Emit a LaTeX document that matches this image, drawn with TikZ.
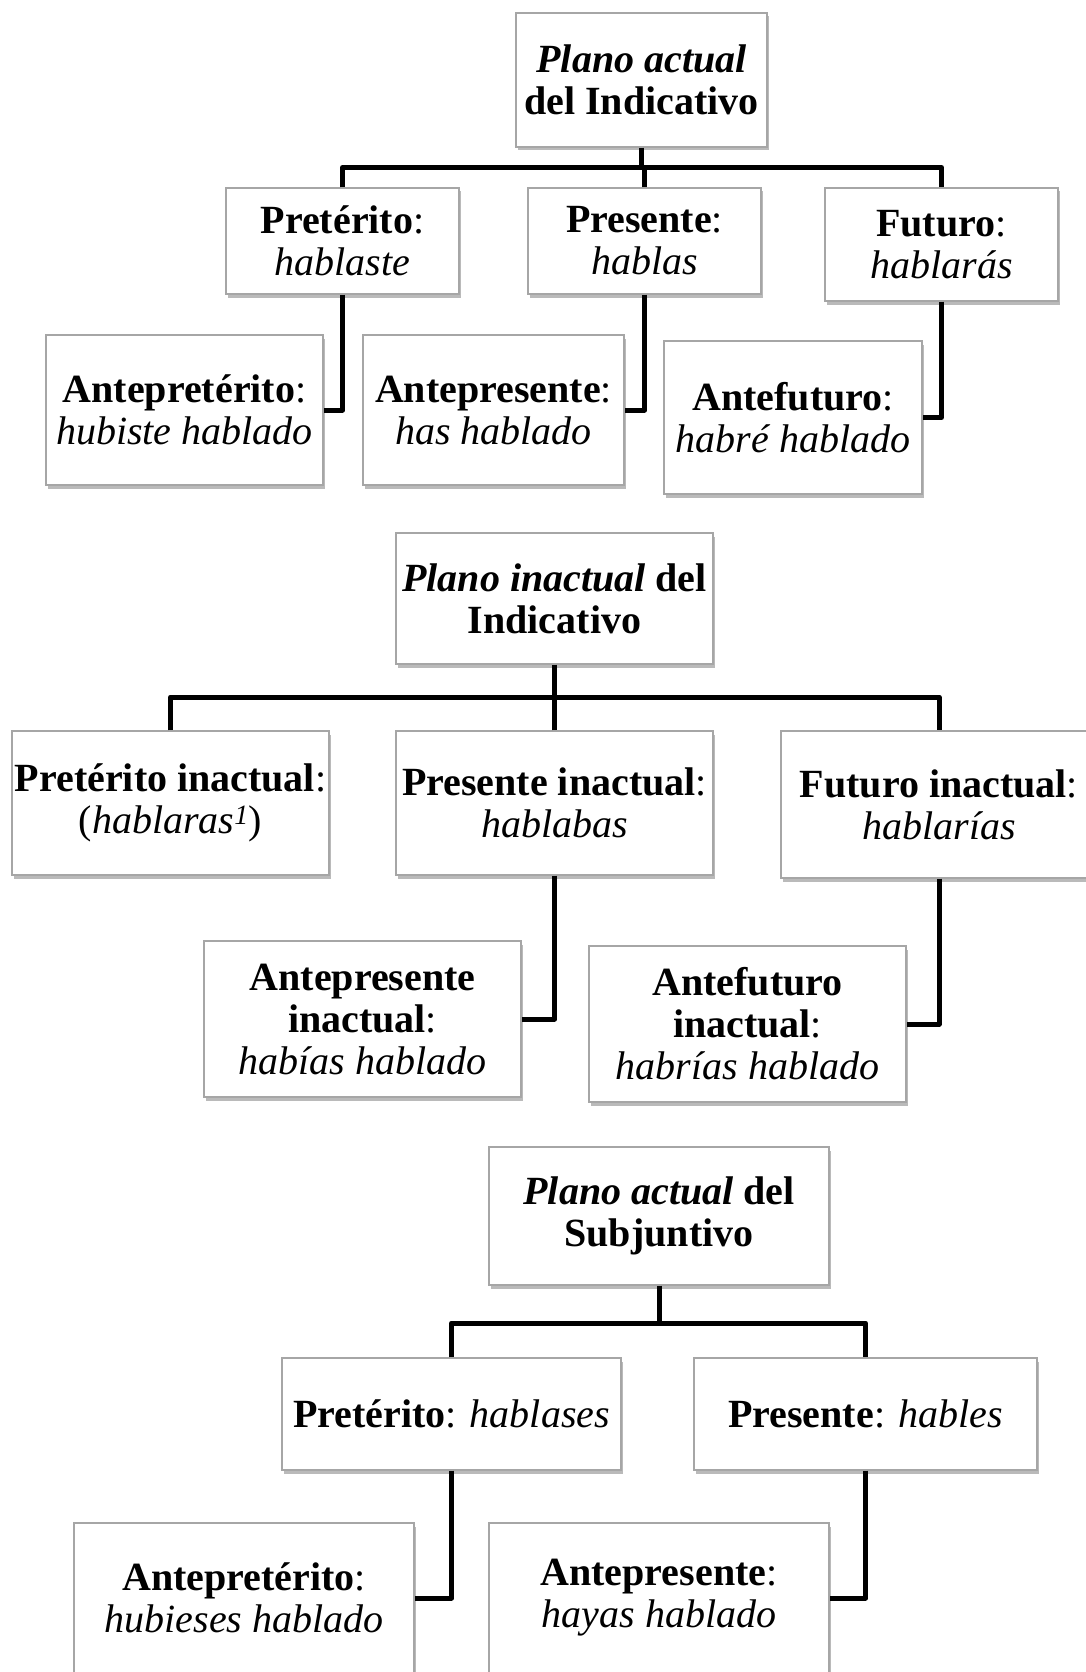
\documentclass[tikz,border=0pt]{standalone}
\usepackage{fontspec}
\setmainfont{Liberation Serif}
\usetikzlibrary{shadows}
\begin{document}
\begin{tikzpicture}[x=1pt,y=-1pt,
  tbox/.style={draw=black!35, line width=1.2pt, fill=white, inner sep=0pt,
    align=center, font=\fontsize{40}{42}\selectfont,
    drop shadow={shadow xshift=2pt, shadow yshift=-3.5pt, fill=black!60, opacity=0.45}},
  link/.style={draw=black, line width=5pt, line join=round}]
\useasboundingbox (0,0) rectangle (1086,1672);
\fill[white] (0,0) rectangle (1086,1672);
\clip (0,0) rectangle (1086,1672);

% --- Plano actual del Indicativo ---
\node[tbox, minimum width=251pt, minimum height=134pt] (top1) at (641.5,80)
  {\textbf{\textit{Plano actual}}\\\textbf{del Indicativo}};
\node[tbox, minimum width=233pt, minimum height=106pt] (pret1) at (342.5,241)
  {\textbf{Pretérito}:\\\textit{hablaste}};
\node[tbox, minimum width=233pt, minimum height=106pt] (pres1) at (644.5,241)
  {\textbf{Presente}:\\\textit{hablas}};
\node[tbox, minimum width=233pt, minimum height=113pt] (fut1) at (941.5,244.5)
  {\textbf{Futuro}:\\\textit{hablarás}};
\node[tbox, minimum width=277pt, minimum height=150pt] (ap1) at (184.5,410)
  {\textbf{Antepretérito}:\\\textit{hubiste hablado}};
\node[tbox, minimum width=261pt, minimum height=150pt] (aps1) at (493.5,410)
  {\textbf{Antepresente}:\\\textit{has hablado}};
\node[tbox, minimum width=258pt, minimum height=153pt] (af1) at (793,417.5)
  {\textbf{Antefuturo}:\\\textit{habré hablado}};
\coordinate (bus1) at (0,167.5);

% --- Plano inactual del Indicativo ---
\node[tbox, minimum width=317pt, minimum height=131pt] (top2) at (554.5,598.5)
  {\textbf{\textit{Plano inactual} del}\\\textbf{Indicativo}};
\node[tbox, minimum width=317pt, minimum height=144pt] (pi) at (170.5,803)
  {\textbf{Pretérito inactual}:\\(\textit{hablaras\textsuperscript{1}})};
\node[tbox, minimum width=317pt, minimum height=144pt] (pri) at (554.5,803)
  {\textbf{Presente inactual}:\\\textit{hablabas}};
\node[tbox, minimum width=316pt, minimum height=147pt] (fi) at (939,804.5)
  {\textbf{Futuro inactual}:\\\textit{hablarías}};
\node[tbox, minimum width=317pt, minimum height=156pt] (api) at (362.5,1019)
  {\textbf{Antepresente}\\\textbf{inactual}:\\\textit{habías hablado}};
\node[tbox, minimum width=317pt, minimum height=156pt] (afi) at (747.5,1024)
  {\textbf{Antefuturo}\\\textbf{inactual}:\\\textit{habrías hablado}};
\coordinate (bus2) at (0,697);

% --- Plano actual del Subjuntivo ---
\node[tbox, minimum width=340pt, minimum height=138pt] (top3) at (659,1216)
  {\textbf{\textit{Plano actual} del}\\\textbf{Subjuntivo}};
\node[tbox, minimum width=339pt, minimum height=112pt] (p3) at (451.5,1414)
  {\textbf{Pretérito}: \textit{hablases}};
\node[tbox, minimum width=343pt, minimum height=112pt] (pr3) at (865.5,1414)
  {\textbf{Presente}: \textit{hables}};
\node[tbox, minimum width=340pt, minimum height=150pt] (ap3) at (244,1598)
  {\textbf{Antepretérito}:\\\textit{hubieses hablado}};
\node[tbox, minimum width=340pt, minimum height=150pt] (aps3) at (659,1598)
  {\textbf{Antepresente}:\\\textit{hayas hablado}};
\coordinate (bus3) at (0,1323);

% --- connectors ---
\draw[link] (top1.south) -- (top1.south |- bus1);
\draw[link] (pret1.north) -- (pret1.north |- bus1) -- (fut1.north |- bus1) -- (fut1.north);
\draw[link] (pres1.north) -- (pres1.north |- bus1);
\draw[link] (pret1.south) |- (ap1.east);
\draw[link] (pres1.south) |- (aps1.east);
\draw[link] (fut1.south) |- (af1.east);

\draw[link] (top2.south) -- (top2.south |- bus2);
\draw[link] (pi.north) -- (pi.north |- bus2) -- (fi.north |- bus2) -- (fi.north);
\draw[link] (pri.north) -- (pri.north |- bus2);
\draw[link] (pri.south) |- (api.east);
\draw[link] (fi.south) |- (afi.east);

\draw[link] (top3.south) -- (top3.south |- bus3);
\draw[link] (p3.north) -- (p3.north |- bus3) -- (pr3.north |- bus3) -- (pr3.north);
\draw[link] (p3.south) |- (ap3.east);
\draw[link] (pr3.south) |- (aps3.east);
\end{tikzpicture}
\end{document}
